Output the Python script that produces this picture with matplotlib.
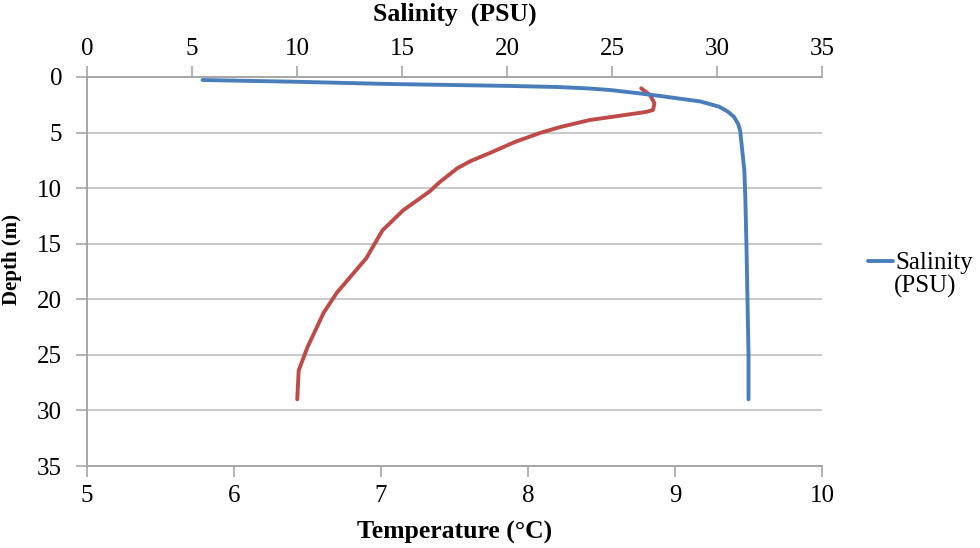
import matplotlib

matplotlib.use("Agg")
import matplotlib.pyplot as plt

# Salinity profile (PSU vs depth in m)
sal_depth = [0.27, 0.42, 0.63, 0.8, 0.9, 1.02, 1.17, 1.45, 1.71, 2.2, 2.67, 3.1, 3.57, 4.2,
             4.8, 6.6, 8.4, 11, 15, 20, 25, 29]
salinity = [5.5, 9.7, 14.4, 20.0, 22.4, 23.8, 24.9, 26.2, 27.3, 29.2, 30.1, 30.5, 30.8, 31.0,
            31.1, 31.2, 31.3, 31.35, 31.4, 31.45, 31.5, 31.5]

# Temperature profile (deg C vs depth in m)
temp_depth = [1.02, 1.62, 2.37, 2.97, 3.15, 3.57, 3.87, 4.5, 5.04, 5.85, 6.84, 7.56, 8.2, 9.45,
              10.3, 12, 13.8, 14.7, 16.3, 19.4, 21.2, 24.3, 26.4, 29]
temperature = [8.77, 8.83, 8.86, 8.85, 8.80, 8.58, 8.42, 8.22, 8.08, 7.91, 7.74, 7.61, 7.52,
               7.40, 7.33, 7.15, 7.01, 6.97, 6.90, 6.70, 6.61, 6.50, 6.44, 6.43]

depth_ticks = [0, 5, 10, 15, 20, 25, 30, 35]
temp_ticks = [5, 6, 7, 8, 9, 10]
sal_ticks = [0, 5, 10, 15, 20, 25, 30, 35]

BLUE = "#4A7EBB"
RED = "#BE4B48"
GRID = "#C8C8C8"
AXIS = "#A6A6A6"

plt.rcParams["font.family"] = ["Liberation Serif", "DejaVu Serif"]

fig = plt.figure(figsize=(9.8, 5.48), dpi=100)
ax = fig.add_axes([0.0888, 0.1496, 0.75, 0.7099])

ax.plot(temperature, temp_depth, color=RED, lw=2.8, solid_capstyle="round",
        solid_joinstyle="round")
ax.set_xlim(5, 10)
ax.set_ylim(35, 0)
ax.set_xticks(temp_ticks)
ax.set_yticks(depth_ticks)
ax.yaxis.grid(True, color=GRID, lw=1.4)
ax.set_axisbelow(True)
ax.set_xlabel("Temperature (°C)", fontsize=18.5, fontweight="bold", labelpad=10)
ax.set_ylabel("Depth (m)", fontsize=15, fontweight="bold")
ax.yaxis.set_label_coords(-0.088, 0.53)

ax2 = ax.twiny()
ax2.plot(salinity, sal_depth, color=BLUE, lw=2.8, solid_capstyle="round",
         solid_joinstyle="round")
ax2.set_xlim(0, 35)
ax2.set_xticks(sal_ticks)
ax2.set_xlabel("Salinity  (PSU)", fontsize=18.5, fontweight="bold", labelpad=13)

for a in (ax, ax2):
    a.spines["right"].set_visible(False)
    for side in ("left", "top", "bottom"):
        a.spines[side].set_color(AXIS)
        a.spines[side].set_linewidth(1.2)
    a.tick_params(length=8, width=1.2, color=AXIS, labelsize=18, pad=4)
ax.tick_params(axis="y", pad=10)
ax.tick_params(axis="x", pad=6)

# legend: Excel wraps the series name, handle sits on the first line
fig.legend(handles=ax2.get_lines(), labels=["Salinity"], loc="center left",
           bbox_to_anchor=(0.886, 0.52), frameon=False, fontsize=18,
           handlelength=1.0, handletextpad=0.1, borderpad=0, borderaxespad=0)
fig.text(0.912, 0.477, "(PSU)", fontsize=18, va="center", ha="left")

fig.savefig("out.png", dpi=100)
plt.close(fig)
